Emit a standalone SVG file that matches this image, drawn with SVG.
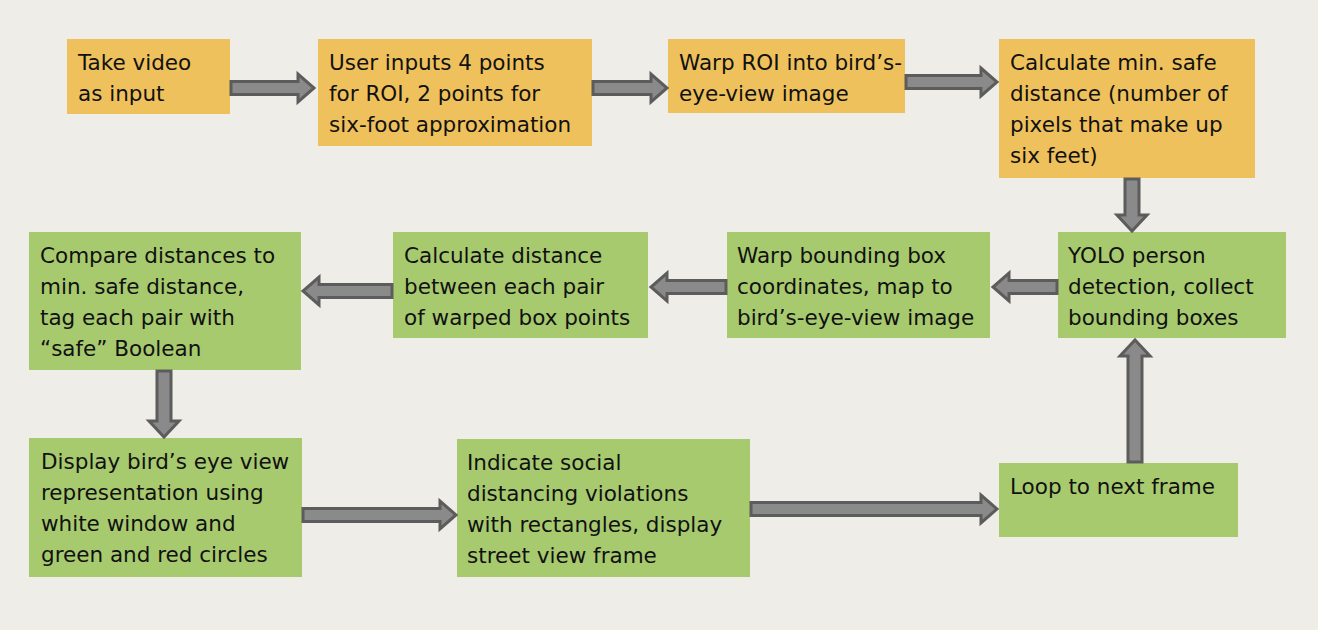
<svg xmlns="http://www.w3.org/2000/svg" width="1318" height="630" viewBox="0 0 1318 630">
<style>
.bg{fill:#efede7}
.o{fill:#efc15c}
.g{fill:#a8ca6f}
text{font-family:"DejaVu Sans",sans-serif;font-size:21.5px;fill:#111}
.a{fill:#8a8a8a;stroke:#5c5c5c;stroke-width:3;stroke-linejoin:miter}
</style>
<rect class="bg" x="0" y="0" width="1318" height="630"/>
<g id="n1"><rect class="o" x="67" y="39" width="163" height="75"/><text x="78" y="70">Take video<tspan x="78" dy="31">as input</tspan></text></g>
<g id="n2"><rect class="o" x="318" y="39" width="274" height="107"/><text x="329" y="70">User inputs 4 points<tspan x="329" dy="31">for ROI, 2 points for</tspan><tspan x="329" dy="31">six-foot approximation</tspan></text></g>
<g id="n3"><rect class="o" x="668" y="39" width="237" height="74"/><text x="679" y="70">Warp ROI into bird’s-<tspan x="679" dy="31">eye-view image</tspan></text></g>
<g id="n4"><rect class="o" x="999" y="39" width="256" height="139"/><text x="1010" y="70">Calculate min. safe<tspan x="1010" dy="31">distance (number of</tspan><tspan x="1010" dy="31">pixels that make up</tspan><tspan x="1010" dy="31">six feet)</tspan></text></g>
<g id="n5"><rect class="g" x="1058" y="232" width="228" height="106"/><text x="1068" y="263">YOLO person<tspan x="1068" dy="31">detection, collect</tspan><tspan x="1068" dy="31">bounding boxes</tspan></text></g>
<g id="n6"><rect class="g" x="727" y="232" width="263" height="106"/><text x="737" y="263">Warp bounding box<tspan x="737" dy="31">coordinates, map to</tspan><tspan x="737" dy="31">bird’s-eye-view image</tspan></text></g>
<g id="n7"><rect class="g" x="393" y="232" width="255" height="106"/><text x="404" y="263">Calculate distance<tspan x="404" dy="31">between each pair</tspan><tspan x="404" dy="31">of warped box points</tspan></text></g>
<g id="n8"><rect class="g" x="29" y="232" width="272" height="138"/><text x="40" y="263">Compare distances to<tspan x="40" dy="31">min. safe distance,</tspan><tspan x="40" dy="31">tag each pair with</tspan><tspan x="40" dy="31">“safe” Boolean</tspan></text></g>
<g id="n9"><rect class="g" x="29" y="438" width="273" height="139"/><text x="41" y="469">Display bird’s eye view<tspan x="41" dy="31">representation using</tspan><tspan x="41" dy="31">white window and</tspan><tspan x="41" dy="31">green and red circles</tspan></text></g>
<g id="n10"><rect class="g" x="457" y="439" width="293" height="138"/><text x="467" y="470">Indicate social<tspan x="467" dy="31">distancing violations</tspan><tspan x="467" dy="31">with rectangles, display</tspan><tspan x="467" dy="31">street view frame</tspan></text></g>
<g id="n11"><rect class="g" x="999" y="463" width="239" height="74"/><text x="1010" y="494">Loop to next frame</text></g>
<g id="connectors">
<polygon class="a" points="231,81.5 298,81.5 298,74 314,88 298,102 298,94.5 231,94.5"/>
<polygon class="a" points="593,81.5 651,81.5 651,74 667,88 651,102 651,94.5 593,94.5"/>
<polygon class="a" points="906,75.5 981,75.5 981,68 997,82 981,96 981,88.5 906,88.5"/>
<polygon class="a" points="1125,179 1125,215 1117,215 1132,231 1147,215 1139,215 1139,179"/>
<polygon class="a" points="1057,280.5 1009,280.5 1009,273 993,287 1009,301 1009,293.5 1057,293.5"/>
<polygon class="a" points="726,280.5 667,280.5 667,273 651,287 667,301 667,293.5 726,293.5"/>
<polygon class="a" points="392,284.5 319,284.5 319,277 303,291 319,305 319,297.5 392,297.5"/>
<polygon class="a" points="157,371 157,421 149,421 164,437 179,421 171,421 171,371"/>
<polygon class="a" points="303,508.5 440,508.5 440,501 456,515 440,529 440,521.5 303,521.5"/>
<polygon class="a" points="751,502.5 981,502.5 981,495 997,509 981,523 981,515.5 751,515.5"/>
<polygon class="a" points="1128,462 1128,356 1120,356 1135,340 1150,356 1142,356 1142,462"/>
</g>
</svg>
